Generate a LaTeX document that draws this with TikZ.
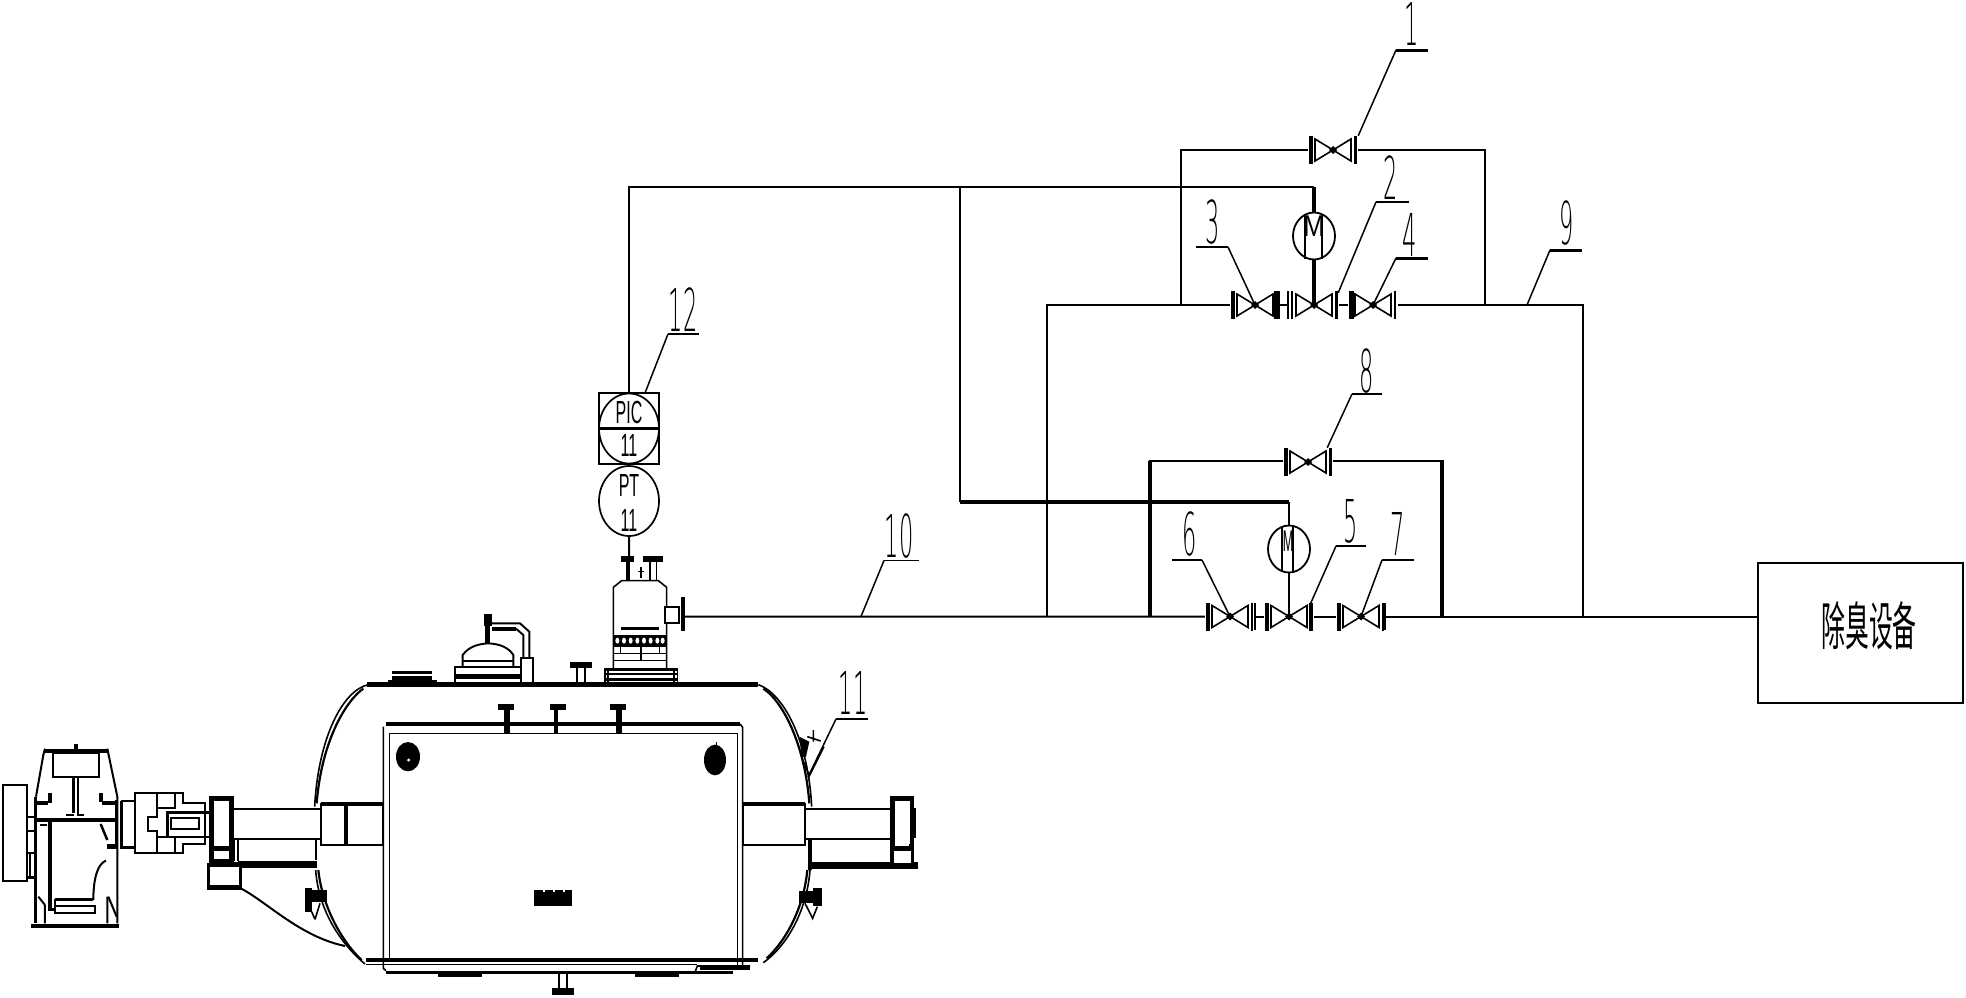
\documentclass[tikz,border=0pt]{standalone}
\usepackage{fontspec}
\usepackage{graphicx}
\setmainfont{Liberation Sans}
\newfontfamily\cjkf{Noto Sans CJK SC}
\newfontfamily\thinf{DejaVu Sans ExtraLight}
\newcommand{\numtxt}[1]{\scalebox{.38}[1]{\thinf\fontsize{59}{59}\selectfont #1}}
\newcommand{\instxt}[1]{\scalebox{.5}[1]{\fontsize{32}{32}\selectfont #1}}
\newcommand{\valve}[6]{%
  \node[valvebox] (#1) at (#2,#3) {};
  \fill[black] ($(#1.center)+(-4,0)$) -- ($(#1.center)+(0,-4)$) -- ($(#1.center)+(4,0)$) -- ($(#1.center)+(0,4)$) -- cycle;
  \draw[thinl] ($(#1.center)+(-18,-11)$) -- ($(#1.center)+(18,11)$) -- ($(#1.center)+(18,-11)$) -- ($(#1.center)+(-18,11)$) -- cycle;
  \draw[line width=#4pt] ($(#1.center)+(-22,-14)$) -- ($(#1.center)+(-22,14)$);
  \draw[line width=#5pt] ($(#1.center)+(22,-14)$) -- ($(#1.center)+(22,14)$);
  #6}
\tikzset{
  thinl/.style={line width=1.6pt},
  pipe/.style={line width=2pt},
  heavy/.style={line width=4pt},
  leader/.style={line width=1.5pt},
  shelf/.style={line width=1.7pt},
  valvebox/.style={minimum width=50pt,minimum height=28pt,inner sep=0pt,draw=none},
  instr/.style={draw,ellipse,line width=1.7pt,minimum width=60pt,minimum height=70pt,inner sep=0pt},
  motor/.style={draw,ellipse,line width=1.8pt,minimum width=42pt,minimum height=47pt,inner sep=0pt},
  numl/.style={inner sep=0pt,anchor=center},
  zoomA/.style={shift={(0,640)},x=.33333pt,y=-.33333pt},
  zoomB/.style={shift={(400,640)},x=.33333pt,y=-.33333pt},
  zoomC/.style={shift={(560,270)},x=.33333pt,y=-.33333pt},
  zoomD/.style={shift={(440,590)},x=.33333pt,y=-.33333pt},
}
\usetikzlibrary{calc,shapes.geometric}
\begin{document}
\begin{tikzpicture}[x=1pt,y=-1pt,line cap=butt,line join=miter]
\useasboundingbox (0,0) rectangle (1966,997);
% ---------- valves
\valve{vone}{1333}{150}{3.5}{3}{}
\valve{vthree}{1255}{305}{3.5}{5.5}{}
\valve{vtwo}{1314}{305}{1.6}{3}{\draw[thinl] (1288,291) -- (1288,319);}
\valve{vfour}{1373}{305}{5}{2}{}
\valve{veight}{1308}{462}{4}{1.7}{\draw[thinl] (1331,448) -- (1331,476);}
\valve{vsix}{1230}{616.5}{4}{1.7}{\draw[thinl] (1255,603) -- (1255,630);}
\valve{vfive}{1289}{616.5}{4}{3.5}{}
\valve{vseven}{1361}{616.5}{4}{1.7}{\draw[thinl] (1385,603) -- (1385,630);}
% ---------- motors
\node[motor] (mone) at (1314,236) {};
\node[motor] (mtwo) at (1289,549) {};
\node[inner sep=0pt] (mlabone) at (1314,226) {\scalebox{.85}[1]{\fontsize{30}{30}\selectfont M}};
\node[inner sep=0pt] (mlabtwo) at (1288,541) {\scalebox{.42}[1]{\fontsize{30}{30}\selectfont M}};
\draw[thinl] (1305,214) -- (1305,259) (1322,214) -- (1322,259);
\draw[thinl] (1282,527) -- (1282,571) (1293,527) -- (1293,571);
% ---------- equipment box
\node[draw,line width=2pt,minimum width=205pt,minimum height=140pt,inner sep=0pt] (equip) at (1860.5,633) {};
\node[inner sep=0pt] (equiptxt) at (1869,626) {\scalebox{.46}[1]{\cjkf\fontsize{52}{52}\selectfont 除臭设备}};
% ---------- instruments
\node[draw,line width=2.8pt,minimum width=60pt,minimum height=71pt,inner sep=0pt] (picbox) at (629,428.5) {};
\node[instr] (piccirc) at (629,428.5) {};
\draw[line width=2.4pt] (picbox.west) -- (picbox.east);
\node[inner sep=0pt] (pictxt) at (629,412) {\instxt{PIC}};
\node[inner sep=0pt] (picnum) at (629,445) {\instxt{11}};
\node[instr] (pt) at (629,501) {};
\node[inner sep=0pt] (pttxt) at (629,485) {\instxt{PT}};
\node[inner sep=0pt] (ptnum) at (629,520) {\instxt{11}};
% ---------- tower
\begin{scope}[zoomC]
\coordinate (towertop) at (207,860);
\coordinate (flangeout) at (375,1040);
\draw[thinl] (160,1195) -- (160,952) -- (185,932) -- (295,932) -- (320,952) -- (320,1195);
\draw[line width=5.5pt] (182,867) -- (222,867);
\draw[line width=4pt] (205,867) -- (205,932);
\draw[line width=5.5pt] (248,867) -- (310,867);
\draw[thinl] (270,867) -- (270,932) (290,867) -- (290,932);
\draw[line width=1.5pt] (243,890) -- (243,925) (234,905) -- (252,905);
\draw[line width=1.9pt,fill=white] (315,1010) rectangle (358,1058);
\fill (362,980) rectangle (376,1084);
\draw[line width=3pt] (182,1075) -- (298,1075);
\fill (160,1094) rectangle (320,1130);
\foreach \k in {172,192,212,232,252,272,292,308} \fill[white] (\k,1112) ellipse (6 and 9);
\draw[thinl] (160,1150) -- (320,1150) (160,1172) -- (320,1172);
\draw[thinl] (243,1130) -- (243,1172) (182,1130) -- (182,1150) (298,1130) -- (298,1150);
\draw[thinl] (135,1197) rectangle (352,1240);
\draw[line width=3pt] (135,1197) -- (352,1197);
\draw[thinl] (135,1212) -- (352,1212);
\draw[line width=3pt] (135,1228) -- (352,1228);
\draw[line width=2pt] (145,1197) -- (145,1240) (342,1197) -- (342,1240);
\end{scope}
\draw[pipe] (pt.south) -- (towertop);
\draw[pipe] (pt.north) -- (picbox.south);
% ---------- pipework coordinates
\coordinate (jmainA) at (1047,616.5);
\coordinate (jtopA) at (1047,305);
\coordinate (jtopB) at (1181,305);
\coordinate (jtopC) at (1485,305);
\coordinate (jright) at (1583,305);
\coordinate (jrightB) at (1583,616.5);
\coordinate (jlowA) at (1150,616.5);
\coordinate (jlowB) at (1442,616.5);
\coordinate (sigturn) at (629,187);
\coordinate (sigmid) at (960,187);
\coordinate (sigdown) at (960,502);
% main line
\draw[pipe] (flangeout) -- (jmainA) -- (jlowA) -- (vsix.west);
\draw[pipe] (vsix.east) -- (vfive.west);
\draw[pipe] (vfive.east) -- (vseven.west);
\draw[pipe] (vseven.east) -- (jlowB) -- (jrightB) -- (equip.west |- jrightB);
% upper branch
\draw[pipe] (jmainA) -- (jtopA) -- (jtopB) -- (vthree.west);
\draw[pipe] (vthree.east) -- (vtwo.west);
\draw[pipe] (vtwo.east) -- (vfour.west);
\draw[pipe] (vfour.east) -- (jtopC) -- (jright) -- (jrightB);
\draw[pipe] (jtopB) |- (vone.west);
\draw[pipe] (vone.east) -| (jtopC);
% lower bypass
\draw[heavy] (jlowA) -- ($(jlowA |- veight)+(0,-1)$);
\draw[pipe] ($(jlowA |- veight)+(-1.5,-1)$) -- ($(veight.west)+(0,-1)$);
\draw[pipe] ($(veight.east)+(0,-1)$) -- ($(jlowB |- veight)+(1.5,-1)$);
\draw[heavy] ($(jlowB |- veight)+(0,-1)$) -- (jlowB);
% signal lines
\draw[pipe] (picbox.north -| sigturn) -- (sigturn) -- (sigmid) -- (sigmid -| mone);
\draw[line width=3.5pt] (sigmid -| mone) -- (mone.north);
\draw[line width=3.5pt] (mone.south) -- (vtwo.center);
\draw[pipe] (sigmid) -- (sigdown);
\draw[line width=3.2pt] (sigdown) -- (sigdown -| mtwo);
\draw[pipe] (sigdown -| mtwo) -- (mtwo.north);
\draw[pipe] (mtwo.south) -- (vfive.center);
% ---------- number labels
\newcommand{\numlabel}[8]{% name, text, tx, ty, shelf x1, shelf x2, shelf y, leader x1
  \coordinate (#1a) at (#5,#7); \coordinate (#1b) at (#6,#7);
  \draw[shelf] (#1a) -- (#1b);
  \node[numl] (#1t) at (#3,#4) {\numtxt{#2}};}
\numlabel{lone}{1}{1412}{24}{1396}{1428}{50}{}
\draw[line width=3pt] (lonea) -- (loneb);
\draw[leader] (lonea) -- ($(vone.north east)+(0,0)$);
\numlabel{ltwo}{2}{1391}{178}{1376}{1409}{202}{}
\draw[leader] (ltwoa) -- ($(vtwo.north east)+(-1,2)$);
\numlabel{lthree}{3}{1213}{222}{1196}{1228}{247}{}
\draw[leader] (lthreeb) -- (vthree.center);
\numlabel{lfour}{4}{1410}{235}{1396}{1428}{258}{}
\draw[line width=3pt] (lfoura) -- (lfourb);
\draw[leader] (lfoura) -- (vfour.center);
\numlabel{lnine}{9}{1567}{223}{1550}{1582}{250}{}
\draw[line width=3pt] (lninea) -- (lnineb);
\coordinate (nineend) at (1527,305);
\draw[leader] (lninea) -- (nineend);
\numlabel{leight}{8}{1367}{371}{1352}{1382}{394}{}
\draw[leader] (leighta) -- ($(veight.north east)+(-6,0)$);
\numlabel{lfive}{5}{1351}{521}{1336}{1366}{546}{}
\draw[leader] (lfivea) -- ($(vfive.north east)+(-4,2)$);
\numlabel{lsix}{6}{1190}{534}{1172}{1202}{560}{}
\draw[leader] (lsixb) -- (vsix.center);
\numlabel{lseven}{7}{1398}{534}{1382}{1414}{560}{}
\draw[leader] (lsevena) -- (vseven.center);
\numlabel{lten}{10}{899}{536}{884}{919}{560.5}{}
\coordinate (tenend) at (861,616.5);
\draw[leader] (ltena) -- (tenend);
\numlabel{leleven}{11}{853}{693}{836}{868}{719}{}
\coordinate (elevenend) at (808,777);
\draw[leader] (lelevena) -- (elevenend);
\numlabel{ltwelve}{12}{683}{310}{668}{699}{334}{}
\coordinate (twelveend) at (645,393);
\draw[leader] (ltwelvea) -- (twelveend);
% ---------- manway and small fitting
\begin{scope}[zoomD]
\draw[line width=2pt] (45,275) -- (45,230) -- (245,230);
\draw[line width=5pt] (45,258) -- (245,258);
\draw[line width=1.9pt] (68,228) -- (68,195) .. controls (85,172) and (110,162) .. (145,160) .. controls (180,162) and (205,172) .. (220,195) -- (220,228);
\draw[line width=1.9pt] (68,212) -- (220,212);
\fill (133,72) rectangle (155,108);
\draw[line width=5pt] (143,100) -- (143,160);
\draw[line width=1.9pt] (155,100) -- (240,100) -- (268,125) -- (268,205);
\draw[line width=4pt] (155,116) -- (228,116);
\draw[line width=1.9pt] (228,116) -- (250,135) -- (250,205);
\draw[line width=2pt] (242,205) rectangle (280,278);
\fill (390,216) rectangle (456,234);
\draw[line width=2pt] (411,234) -- (411,280) (434,234) -- (434,280);
\end{scope}
% ---------- vessel
\begin{scope}[zoomB]
\draw[line width=5.5pt] (-99,134) -- (1075,134);
% right head
\draw[thinl] (1075,134) .. controls (1150,160) and (1225,300) .. (1235,500);
\draw[line width=2.2pt] (1090,146) .. controls (1145,180) and (1215,310) .. (1228,490);
\draw[line width=3.5pt] (1230,600) -- (1230,690);
\draw[thinl] (1230,690) .. controls (1222,800) and (1170,910) .. (1090,968);
\draw[line width=2.2pt] (1222,690) .. controls (1212,800) and (1160,900) .. (1100,955);
% right stiffener & flange bits
\fill (1198,290) -- (1228,305) -- (1218,350) -- (1205,352) -- cycle;
\draw[thinl] (1205,352) -- (1228,408) -- (1272,320);
\draw[thinl] (1240,270) -- (1240,305) (1222,290) -- (1262,303);
\fill (1198,752) rectangle (1266,790);
\fill (1238,745) rectangle (1266,798);
\draw[thinl] (1215,790) -- (1238,835) -- (1252,800);
% inner double rectangle
\draw[line width=3.5pt] (-42,252) -- (1020,252);
\draw[thinl] (1020,252) -- (1028,262) -- (1028,985);
\draw[thinl] (-33,280) -- (1012,280) -- (1012,985);
\draw[line width=3.5pt] (-102,960) -- (1075,960);
\draw[thinl] (-102,974) -- (890,974);
\draw[line width=3.5pt] (-42,998) -- (1000,998);
\fill (115,1003) rectangle (245,1012);
\fill (705,1003) rectangle (838,1012);
\draw[thinl] (886,994) -- (892,978) -- (1050,978);
\draw[line width=3.5pt] (900,984) -- (1050,984);
% studs
\foreach \a/\b in {295/342,450/498,630/678}{
  \fill (\a,193) rectangle (\b,210);
}
\fill (312,210) rectangle (330,278);
\fill (462,210) rectangle (474,278);
\fill (648,210) rectangle (666,278);
% right blob
\fill (945,360) ellipse (33 and 46);
\draw[line width=1.5pt] (950,306) -- (950,330);
% center small blob
\fill (402,750) rectangle (516,797);
\foreach \k in {430,460,490} \fill[white] (\k,748) rectangle (\k+5,756);
% bottom drain
\draw[line width=2pt] (478,995) -- (478,1045) (500,995) -- (500,1045);
\fill (457,1045) rectangle (522,1065);
% right shaft
\draw[line width=2pt,fill=white] (1030,492) rectangle (1215,614);
\draw[line width=3.5pt] (1030,492) -- (1215,492);
\draw[line width=2pt,fill=white] (1215,507) rectangle (1472,597);
\draw[line width=7pt] (1230,675) -- (1553,675);
\draw[line width=5pt] (1476,474) rectangle (1535,672);
\fill[white] (1488,482) rectangle (1530,612);
\fill (1478,618) rectangle (1536,632);
\fill[white] (1482,634) rectangle (1532,668);
\fill (1538,505) rectangle (1547,595);
\end{scope}
\begin{scope}[zoomA]
% cover on top plate
\fill (1165,120) rectangle (1312,134);
\fill (1176,92) rectangle (1296,102);
\fill (1176,108) rectangle (1296,125);
% left head
\draw[thinl] (1105,134) .. controls (1030,150) and (955,290) .. (944,500);
\draw[line width=2.2pt] (1090,146) .. controls (1040,180) and (965,300) .. (950,490);
\draw[thinl] (947,690) .. controls (955,800) and (1010,900) .. (1095,972);
\draw[line width=2.2pt] (955,690) .. controls (965,790) and (1020,900) .. (1085,960);
\fill (915,745) rectangle (935,815);
\fill (915,750) rectangle (980,785);
\draw[thinl] (935,815) -- (945,838) (960,790) -- (945,838);
% left wall
\draw[thinl] (1150,260) -- (1150,985) -- (1158,992);
\draw[thinl] (1168,280) -- (1168,960);
\fill (1224,350) ellipse (36 and 44);
\fill[white] (1226,360) circle (5);
% left body shaft
\draw[line width=2pt,fill=white] (962,492) rectangle (1148,614);
\draw[line width=3.5pt] (962,492) -- (1148,492);
\draw[line width=3.5pt] (1038,492) -- (1038,614);
\draw[line width=2pt,fill=white] (700,507) rectangle (962,597);
\draw[line width=2pt] (715,597) -- (715,664) (703,597) -- (703,664);
\draw[line width=7pt] (715,672) -- (950,672);
\draw[line width=1.7pt] (948,597) -- (948,660);
% flange block
\draw[line width=5pt] (636,474) rectangle (694,664);
\fill[white] (650,482) rectangle (688,612);
\fill (640,618) rectangle (692,632);
\draw[line width=3pt,fill=white] (627,672) rectangle (722,745);
\draw[line width=5pt] (627,741) -- (722,741);
\draw[line width=5pt] (627,672) -- (722,672);
% leader curve
\draw[line width=2pt] (722,745) .. controls (800,785) and (900,890) .. (1035,918);
% coupling
\draw[line width=2pt] (405,458) -- (550,458) -- (550,490) -- (615,490) -- (615,612) -- (550,612) -- (550,638) -- (405,638) -- cycle;
\draw[line width=2pt] (470,458) -- (470,530) -- (445,530) -- (445,573) -- (470,573) -- (470,638);
\draw[line width=2pt] (525,458) -- (525,505) -- (470,505) (525,638) -- (525,592) -- (470,592);
\draw[line width=3pt] (503,590) -- (503,517) -- (630,517);
\draw[line width=2pt] (503,590) -- (630,590);
\draw[line width=2pt] (513,535) rectangle (597,567);
\draw[line width=3pt] (364,483) -- (364,622) -- (403,622);
\draw[line width=1.7pt] (364,483) -- (403,483);
% gearbox
\draw[line width=2.2pt] (8,434) rectangle (80,722);
\draw[line width=2pt] (80,530) -- (108,530) (80,572) -- (108,572) (80,640) -- (108,640);
\draw[line width=3pt] (78,712) -- (108,712);
\draw[line width=2pt] (90,640) -- (90,712);
\draw[line width=4.5pt] (135,333) -- (322,333);
\fill (222,312) rectangle (234,326);
\draw[line width=2pt] (158,340) rectangle (298,410);
\draw[line width=2pt] (135,326) -- (130,345) -- (108,470);
\draw[line width=3pt] (108,470) -- (108,850);
\draw[line width=2pt] (322,326) -- (352,470) -- (352,850);
\draw[line width=4pt] (108,490) -- (145,490) (305,490) -- (352,490);
\draw[line width=4pt] (150,458) -- (150,488) (303,458) -- (303,486);
\draw[line width=3pt] (220,415) -- (220,520);
\draw[line width=1.7pt] (235,415) -- (235,525) (198,525) -- (222,525) (230,525) -- (252,525);
\draw[line width=3.5pt] (108,540) -- (352,540);
\draw[line width=3.5pt] (150,545) -- (150,808) -- (165,808);
\draw[line width=3pt] (165,778) -- (280,778);
\draw[line width=2pt] (165,778) -- (165,820) -- (285,820) -- (285,798) -- (165,798);
\draw[line width=2pt] (135,795) -- (135,850) (322,770) -- (322,850) (135,795) -- (115,770);
\draw[line width=2pt] (325,770) -- (350,830);
\draw[line width=2.5pt] (302,552) -- (322,600);
\draw[line width=5pt] (322,620) -- (352,620);
\draw[line width=2pt] (318,662) .. controls (295,670) and (280,710) .. (280,780);
\draw[line width=4pt] (92,858) -- (358,858);
\draw[line width=3pt] (350,480) -- (350,612);
\draw[line width=2pt] (120,555) -- (140,555);
\end{scope}
\end{tikzpicture}
\end{document}
